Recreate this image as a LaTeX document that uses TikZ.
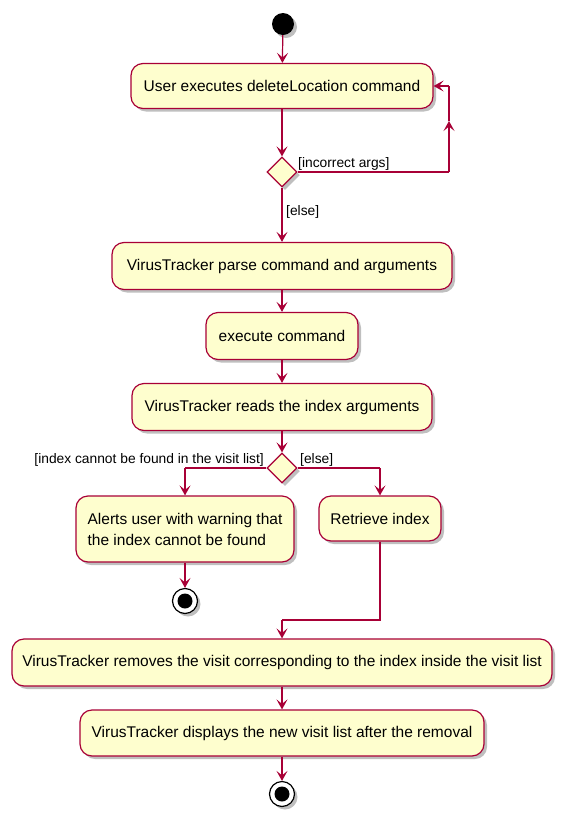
\documentclass[tikz,border=0pt]{standalone}
\usepackage{fontspec}
\setmainfont{Liberation Sans}
\usetikzlibrary{shapes.geometric,arrows.meta,shadows}
\definecolor{umlred}{HTML}{A80036}
\definecolor{umlfill}{HTML}{FEFECE}
\tikzset{
  shad/.style={drop shadow={shadow xshift=3pt,shadow yshift=-3pt,opacity=0.25,fill=black}},
  act/.style={draw=umlred,fill=umlfill,line width=1.2pt,rounded corners=12pt,shad,
    font=\fontsize{15.5}{21}\selectfont,inner sep=0pt,align=center},
  dec/.style={draw=umlred,fill=umlfill,line width=1.2pt,diamond,minimum width=30pt,minimum height=30pt,inner sep=0pt,shad},
  flow/.style={draw=umlred,line width=1.2pt},
  arr/.style={flow,-{Stealth[length=10pt,width=11pt,inset=4.5pt]}},
  guard/.style={font=\fontsize{13.8}{15}\selectfont,inner sep=0pt},
  startnode/.style={circle,fill=black,minimum size=22pt,inner sep=0pt,shad},
  endnode/.style={circle,draw=black,fill=white,line width=1.2pt,minimum size=25pt,inner sep=0pt,shad},
}
\begin{document}
\begin{tikzpicture}[x=1pt,y=-1pt]
\useasboundingbox (0,0) rectangle (565,820);
\node[startnode] (start) at (283,24) {};
\node[act,minimum width=302pt,minimum height=45pt] (a1) at (282,86) {User executes deleteLocation command};
\node[dec] (d1) at (282,172) {};
\node[act,minimum width=340pt,minimum height=47pt] (a2) at (282,266) {VirusTracker parse command and arguments};
\node[act,minimum width=152pt,minimum height=47pt] (a3) at (282,336) {execute command};
\node[act,minimum width=300pt,minimum height=47pt] (a4) at (282,407) {VirusTracker reads the index arguments};
\node[dec] (d2) at (282,468) {};
\node[act,minimum width=218pt,minimum height=66pt,align=left] (a5) at (185,529) {Alerts user with warning that\\the index cannot be found};
\node[act,minimum width=122pt,minimum height=45pt] (a6) at (380,518.5) {Retrieve index};
\node[endnode] (e1) at (185,601) {};
\fill (e1) circle (7.5pt);
\node[act,minimum width=540pt,minimum height=47pt] (a7) at (282,662.5) {VirusTracker removes the visit corresponding to the index inside the visit list};
\node[act,minimum width=404pt,minimum height=46pt] (a8) at (282,733) {VirusTracker displays the new visit list after the removal};
\node[endnode] (e2) at (282,794) {};
\fill (e2) circle (7.5pt);

\coordinate (lp1) at (449,172);
\coordinate (lpm) at (449,121);
\coordinate (lp2) at (449,86);
\coordinate (lb) at (185,468);
\coordinate (rb) at (380,468);
\coordinate (j1) at (380,620);
\coordinate (j2) at (282,620);

\draw[arr] (start) -- (a1);
\draw[arr] (a1) -- (d1);
\draw[flow] (d1.east) -- (lp1);
\draw[arr] (lp1) -- (lpm);
\draw[flow] (lpm) -- (lp2);
\draw[arr] (lp2) -- (a1.east);
\draw[arr] (d1) -- (a2);
\draw[arr] (a2) -- (a3);
\draw[arr] (a3) -- (a4);
\draw[arr] (a4) -- (d2);
\draw[flow] (d2.west) -- (lb);
\draw[arr] (lb) -- (a5.north);
\draw[flow] (d2.east) -- (rb);
\draw[arr] (rb) -- (a6.north);
\draw[arr] (a5) -- (e1);
\draw[flow] (a6.south) -- (j1) -- (j2);
\draw[arr] (j2) -- (a7.north);
\draw[arr] (a7) -- (a8);
\draw[arr] (a8) -- (e2);

\node[guard,anchor=south west] (g1) at (298,171) {[incorrect args]};
\node[guard,anchor=west] (g2) at (286,212) {[else]};
\node[guard,anchor=south east] (g3) at (264,467) {[index cannot be found in the visit list]};
\node[guard,anchor=south west] (g4) at (300,467) {[else]};
\end{tikzpicture}
\end{document}
